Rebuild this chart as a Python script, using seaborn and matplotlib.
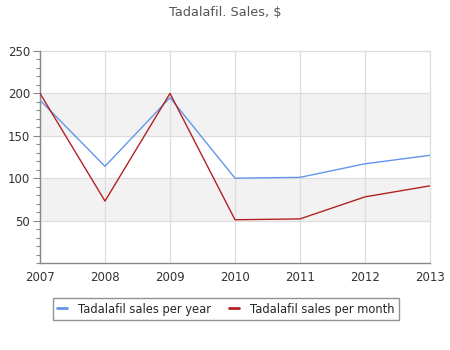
import matplotlib
matplotlib.use("Agg")
import matplotlib.pyplot as plt
import seaborn as sns
import pandas as pd
from matplotlib.ticker import MultipleLocator

years = [2007, 2008, 2009, 2010, 2011, 2012, 2013]
sales_per_year = [192, 114, 195, 100, 101, 117, 127]
sales_per_month = [200, 73, 200, 51, 52, 78, 91]
series_names = ["Tadalafil sales per year", "Tadalafil sales per month"]
series_colors = ["#6495ED", "#B22222"]
title = "Tadalafil. Sales, $"

df = pd.DataFrame({
    "year": years * 2,
    "value": sales_per_year + sales_per_month,
    "series": [series_names[0]] * len(years) + [series_names[1]] * len(years),
})

sns.set_theme(style="white")
plt.rcParams["font.family"] = ["DejaVu Sans"]

fig = plt.figure(figsize=(4.5, 3.5), dpi=100)
ax = fig.add_axes([40 / 450, 87 / 350, 390 / 450, 212 / 350])

# alternating horizontal bands
for lo in (50, 150):
    ax.axhspan(lo, lo + 50, color="#f2f2f2", zorder=0, lw=0)

sns.lineplot(data=df, x="year", y="value", hue="series",
             palette=dict(zip(series_names, series_colors)),
             linewidth=1.0, ax=ax, legend=True, zorder=3)

ax.set_xlim(2007, 2013)
ax.set_ylim(0, 250)
ax.set_xticks(years)
ax.set_xticklabels([str(y) for y in years])
ax.set_yticks([50, 100, 150, 200, 250])
ax.yaxis.set_minor_locator(MultipleLocator(10))
ax.set_xlabel("")
ax.set_ylabel("")

ax.grid(True, which="major", color="#dddddd", linewidth=0.9, zorder=1)
ax.set_axisbelow(True)
for gl in ax.get_xgridlines() + ax.get_ygridlines():
    gl.set_clip_on(False)

for side in ("top", "right"):
    ax.spines[side].set_visible(False)
for side in ("left", "bottom"):
    ax.spines[side].set_color("#888888")
    ax.spines[side].set_linewidth(1.0)

ax.tick_params(axis="y", which="major", length=5, color="#888888",
               labelsize=8.5, labelcolor="#333333", left=True, width=0.8, pad=2)
ax.tick_params(axis="y", which="minor", length=3, color="#888888", left=True, width=0.8)
ax.tick_params(axis="x", which="major", length=0, labelsize=8.5,
               labelcolor="#333333", pad=6)

fig.text(0.5, 1 - 12 / 350, title, ha="center", va="center",
         fontsize=9.3, color="#555555")

handles, labels = ax.get_legend_handles_labels()
ax.legend(handles, labels, loc="center", bbox_to_anchor=(226 / 450, 1 - 309 / 350),
          bbox_transform=fig.transFigure, ncol=2, frameon=True, fancybox=False,
          edgecolor="#777777", fontsize=8.3, handlelength=0.8, handletextpad=1.0,
          columnspacing=1.6, borderpad=0.4, borderaxespad=0)
ax.get_legend().get_frame().set_linewidth(1.0)
for h in ax.get_legend().get_lines():
    h.set_linewidth(2.0)

fig.savefig("out.png", dpi=100)
